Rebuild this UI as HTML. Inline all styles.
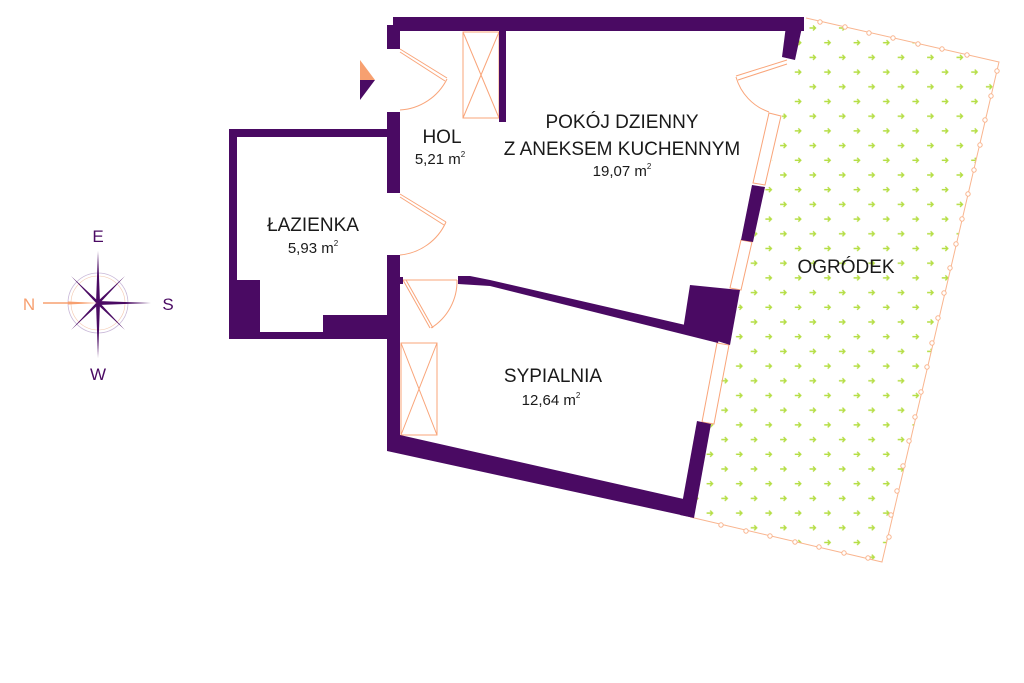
<!DOCTYPE html>
<html><head><meta charset="utf-8"><style>
html,body{margin:0;padding:0;background:#fff;}
svg{display:block;}
text{font-family:"Liberation Sans",sans-serif;fill:#1a1a1a;}
</style></head><body>
<svg width="1024" height="683" viewBox="0 0 1024 683" xmlns="http://www.w3.org/2000/svg">
<defs>
<pattern id="g" x="0" y="0" width="29.4" height="29.4" patternUnits="userSpaceOnUse" patternTransform="translate(808,24)">
<g stroke="#b5de45" stroke-width="1.4" fill="none">
<path d="M1.5 4 H7.5 M5 1.5 L7.5 4 L5 6.5"/>
<path d="M16.2 18.7 H22.2 M19.7 16.2 L22.2 18.7 L19.7 21.2"/>
</g>
</pattern>
<clipPath id="gc"><polygon points="802,18 999,62 882,562 690,517 795,60"/></clipPath>
</defs>

<!-- garden -->
<rect x="680" y="10" width="330" height="560" fill="url(#g)" clip-path="url(#gc)"/>
<polyline points="806,18 999,62 882,562 690,517" fill="none" stroke="#f9b58f" stroke-width="1"/>
<g fill="#fff" stroke="#f9b58f" stroke-width="1">
<circle cx="820" cy="22" r="2.2"/><circle cx="845" cy="27" r="2.2"/><circle cx="869" cy="33" r="2.2"/><circle cx="893" cy="38" r="2.2"/><circle cx="918" cy="44" r="2.2"/><circle cx="942" cy="49" r="2.2"/><circle cx="967" cy="55" r="2.2"/>
<circle cx="997" cy="71" r="2.2"/><circle cx="991" cy="96" r="2.2"/><circle cx="985" cy="120" r="2.2"/><circle cx="980" cy="145" r="2.2"/><circle cx="974" cy="170" r="2.2"/><circle cx="968" cy="194" r="2.2"/><circle cx="962" cy="219" r="2.2"/><circle cx="956" cy="244" r="2.2"/><circle cx="950" cy="268" r="2.2"/><circle cx="944" cy="293" r="2.2"/><circle cx="938" cy="318" r="2.2"/><circle cx="932" cy="343" r="2.2"/><circle cx="927" cy="367" r="2.2"/><circle cx="921" cy="392" r="2.2"/><circle cx="915" cy="417" r="2.2"/><circle cx="909" cy="441" r="2.2"/><circle cx="903" cy="466" r="2.2"/><circle cx="897" cy="491" r="2.2"/><circle cx="891" cy="515" r="2.2"/><circle cx="889" cy="537" r="2.2"/>
<circle cx="721" cy="525" r="2.2"/><circle cx="746" cy="531" r="2.2"/><circle cx="770" cy="536" r="2.2"/><circle cx="795" cy="542" r="2.2"/><circle cx="819" cy="547" r="2.2"/><circle cx="844" cy="553" r="2.2"/><circle cx="868" cy="558" r="2.2"/>
</g>

<!-- orange fixtures -->
<g fill="none" stroke="#f9a57a" stroke-width="1">
<rect x="463" y="32" width="36" height="86"/><path d="M463 32 L499 118 M499 32 L463 118"/>
<rect x="401" y="343" width="36" height="92"/><path d="M401 343 L437 435 M437 343 L401 435"/>
<!-- entrance door -->
<path d="M400 49 L447 78 M400 52 L445 81"/><path d="M447 79 A56 56 0 0 1 400 110"/>
<!-- bathroom door -->
<path d="M400 194 L446 222 M400 197 L444 225"/><path d="M446 222 A56 56 0 0 1 400 255"/>
<!-- bedroom door -->
<path d="M403 280 L457 280"/><path d="M403 280 L430 328 M406 280 L433 328"/><path d="M457 280 A55 55 0 0 1 431 328"/>
<!-- balcony door -->
<path d="M787 60 L736 76 M787 64 L738 80"/><path d="M736 77 A52 52 0 0 0 769 112"/>
<!-- windows -->
<polygon points="769,113 781,116 765,185 753,183"/>
<polygon points="741,240 752,242 741,290 730,288"/>
<polygon points="717,343 729,345 714,424 702,422"/>
</g>

<!-- walls -->
<g fill="#4a0a63">
<rect x="393" y="17" width="411" height="14"/>
<rect x="387" y="25" width="13" height="24"/>
<polygon points="787,18 804,18 795,60 782,57"/>
<rect x="499" y="30" width="7" height="92"/>
<rect x="387" y="112" width="13" height="81"/>
<polygon points="387,255 400,255 400,277 403,277 403,284 400,284 400,435 688,500 690,517 387,451"/>
<polygon points="752,185 765,187 753,242 741,240"/>
<polygon points="458,276 470,276 490,280 720,333 718,343 490,286 458,284"/>
<polygon points="690,285 740,290 730,345 683,330"/>
<polygon points="697,421 711,424 694,518 680,515"/>
<rect x="229" y="129" width="158" height="8"/>
<rect x="229" y="129" width="8" height="210"/>
<rect x="229" y="332" width="171" height="7"/>
<rect x="237" y="280" width="23" height="53"/>
<rect x="323" y="315" width="77" height="18"/>
</g>

<!-- entrance marker -->
<polygon points="360,60 375,80 360,80" fill="#f7a070"/>
<polygon points="360,80 375,80 360,100" fill="#4a0a63"/>

<!-- compass -->
<g transform="translate(98,303)">
<circle r="30" fill="none" stroke="#c9b8d8" stroke-width="0.8"/>
<circle r="27" fill="none" stroke="#f3c6ad" stroke-width="0.6"/>
<g fill="#4a0a63">
<polygon points="0,-52 2,0 0,55 -2,0"/>
<polygon points="0,-2 53,0 0,2"/>
<polygon points="-27,-27 1,-1 27,27 -1,1" />
<polygon points="27,-27 1,1 -27,27 -1,-1"/>
</g>
<polygon points="-30,-1.5 0,0 -30,1.5" fill="#f7a070"/>
<line x1="-55" y1="0" x2="-30" y2="0" stroke="#f7a070" stroke-width="1.5"/>
</g>
<text x="98" y="242" font-size="17" text-anchor="middle" style="fill:#4a0a63">E</text>
<text x="98" y="380" font-size="17" text-anchor="middle" style="fill:#4a0a63">W</text>
<text x="29" y="310" font-size="17" text-anchor="middle" style="fill:#f7a070">N</text>
<text x="168" y="310" font-size="17" text-anchor="middle" style="fill:#4a0a63">S</text>

<!-- labels -->
<g text-anchor="middle">
<text x="442" y="143" font-size="19">HOL</text>
<text x="440" y="164" font-size="15">5,21 m<tspan font-size="8" dy="-7">2</tspan></text>
<text x="622" y="128" font-size="19">POKÓJ DZIENNY</text>
<text x="622" y="155" font-size="19">Z ANEKSEM KUCHENNYM</text>
<text x="622" y="176" font-size="15">19,07 m<tspan font-size="8" dy="-7">2</tspan></text>
<text x="313" y="231" font-size="19">ŁAZIENKA</text>
<text x="313" y="253" font-size="15">5,93 m<tspan font-size="8" dy="-7">2</tspan></text>
<text x="553" y="382" font-size="19">SYPIALNIA</text>
<text x="551" y="405" font-size="15">12,64 m<tspan font-size="8" dy="-7">2</tspan></text>
<text x="846" y="273" font-size="19">OGRÓDEK</text>
</g>
</svg>
</body></html>
